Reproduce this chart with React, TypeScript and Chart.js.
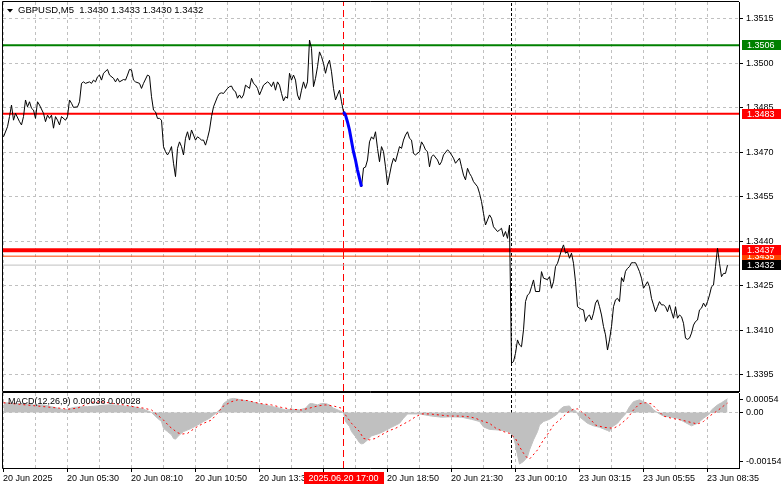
import React, { useEffect, useRef } from 'react';
import { Chart, registerables } from 'chart.js';

Chart.register(...registerables);

const FONT = "'Liberation Sans', Arial, sans-serif";

// ---------- data ----------
const headerText = 'GBPUSD,M5  1.3430 1.3433 1.3430 1.3432';
const macdTitle = 'MACD(12,26,9) 0.00038 0.00028';

// bar number (M5 bars from the left edge) and close price
const priceBars = [
  0, 2, 3, 4, 5, 6, 8, 9, 10, 11, 12, 13, 14, 15, 16, 17, 18, 20, 21, 22, 23, 24, 25, 26, 27, 28, 29, 31, 32, 33, 34, 35, 37, 38, 39, 40,
  41, 43, 44, 45, 46, 47, 48, 49, 50, 52, 53, 55, 56, 57, 58, 60, 61, 62, 63, 64, 65, 66, 68, 69, 70, 72, 73, 74, 75, 76, 77, 78, 79, 80,
  81, 82, 83, 84, 85, 86, 87, 88, 89, 90, 91, 92, 93, 94, 95, 96, 97, 98, 99, 100, 101, 102, 103, 104, 105, 107, 108, 109, 110, 112, 113,
  114, 115, 116, 117, 118, 119, 120, 121, 123, 124, 125, 126, 127, 128, 129, 130, 132, 133, 134, 135, 136, 137, 138, 139, 140, 141, 142,
  143, 144, 145, 146, 147, 148, 149, 150, 151, 152, 153, 154, 155, 156, 157, 158, 159, 160, 161, 162, 163, 164, 165, 166, 167, 168, 169,
  170, 171, 172, 173, 174, 175, 176, 177, 178, 179, 180, 181, 182, 183, 184, 185, 186, 187, 188, 189, 190, 191, 192, 193, 194, 195, 196,
  198, 199, 200, 201, 202, 203, 204, 205, 206, 208, 209, 210, 211, 212, 213, 214, 215, 217, 218, 219, 220, 222, 223, 224, 225, 226, 228,
  229, 230, 231, 232, 233, 234, 235, 237, 238, 239, 240, 241, 242, 243, 244, 245, 247, 248, 249, 250, 251, 252, 253, 254, 255, 256, 257,
  258, 259, 260, 261, 262, 263, 264, 265, 266, 268, 269, 270, 272, 273, 274, 275, 276, 277, 278, 279, 280, 281, 282, 283, 284, 285, 286,
  287, 288, 289, 290, 291, 292, 293, 294, 295, 296, 297, 298, 299, 300, 301, 302, 303, 304, 305, 306, 307, 308, 309, 310, 311, 312, 313,
  314, 315, 316, 317, 318, 319, 320, 321, 322, 323, 324, 325, 326, 327, 328, 329, 330, 331, 332, 333, 334, 335, 336, 337, 338, 339, 340,
  341, 342, 343, 344, 345, 346, 347, 348, 349, 350, 351, 352, 353, 354, 355, 356, 357, 358, 359, 360, 361, 362,
];
const priceCloses = [
  1.34752, 1.34786, 1.3482, 1.34859, 1.34808, 1.34831, 1.34803, 1.34792, 1.3482, 1.34876, 1.34853, 1.3487, 1.34848, 1.34842, 1.34814,
  1.3487, 1.34859, 1.34831, 1.34803, 1.34825, 1.34814, 1.34825, 1.34781, 1.3482, 1.34808, 1.34792, 1.3482, 1.34808, 1.3482, 1.34876,
  1.34865, 1.34851, 1.34853, 1.3487, 1.34932, 1.34937, 1.34932, 1.34937, 1.34932, 1.34943, 1.34937, 1.34954, 1.3496, 1.34943, 1.34966,
  1.34979, 1.3496, 1.34949, 1.34937, 1.34949, 1.34937, 1.34945, 1.34943, 1.3496, 1.34979, 1.34977, 1.34943, 1.34937, 1.34932, 1.34915,
  1.34932, 1.3496, 1.34956, 1.34887, 1.34842, 1.34836, 1.34814, 1.34814, 1.34808, 1.34719, 1.34702, 1.34691, 1.34702, 1.34719, 1.34663,
  1.34618, 1.34713, 1.34735, 1.34719, 1.34691, 1.34747, 1.34769, 1.34741, 1.34775, 1.34758, 1.34741, 1.34752, 1.34747, 1.34741, 1.34741,
  1.34724, 1.34747, 1.34775, 1.3482, 1.34853, 1.34887, 1.34898, 1.349, 1.34898, 1.34915, 1.34921, 1.34923, 1.34909, 1.34904, 1.34882,
  1.34893, 1.34882, 1.34893, 1.34926, 1.34915, 1.34949, 1.34932, 1.34926, 1.34915, 1.34893, 1.34909, 1.34926, 1.34937, 1.34932, 1.34921,
  1.34937, 1.34909, 1.34937, 1.34926, 1.34898, 1.34873, 1.34887, 1.34882, 1.34966, 1.34943, 1.3496, 1.34943, 1.34893, 1.34876, 1.34909,
  1.34937, 1.34915, 1.34937, 1.35078, 1.3505, 1.34921, 1.34949, 1.34988, 1.35038, 1.35022, 1.34999, 1.34966, 1.34994, 1.3501, 1.34971,
  1.34915, 1.34876, 1.34893, 1.34909, 1.3487, 1.34836, 1.34825, 1.34802, 1.34775, 1.34738, 1.34701, 1.34674, 1.3464, 1.34612, 1.34584,
  1.34647, 1.3465, 1.34674, 1.34735, 1.34752, 1.34744, 1.34769, 1.34713, 1.34668, 1.34719, 1.34702, 1.34651, 1.3459, 1.34623, 1.34657,
  1.3468, 1.34668, 1.34719, 1.34713, 1.34741, 1.34758, 1.34769, 1.34747, 1.34741, 1.34696, 1.34691, 1.34702, 1.34735, 1.34724, 1.34708,
  1.34702, 1.34651, 1.34685, 1.34691, 1.34674, 1.34657, 1.34668, 1.34691, 1.34708, 1.34702, 1.34691, 1.3468, 1.34663, 1.3468, 1.34651,
  1.34623, 1.34607, 1.34646, 1.34629, 1.34618, 1.34601, 1.34584, 1.34562, 1.34534, 1.34494, 1.34455, 1.34472, 1.34489, 1.34478, 1.34449,
  1.34433, 1.34438, 1.34444, 1.34416, 1.34433, 1.3441, 1.34455, 1.3399, 1.33995, 1.34023, 1.34068, 1.34051, 1.34045, 1.34102, 1.34197,
  1.34219, 1.34225, 1.34247, 1.3427, 1.34231, 1.34231, 1.34298, 1.34276, 1.34271, 1.34281, 1.34242, 1.34264, 1.34315, 1.34326, 1.34348,
  1.34371, 1.34388, 1.3436, 1.34365, 1.34343, 1.3436, 1.34326, 1.34264, 1.3418, 1.34175, 1.34171, 1.34169, 1.3413, 1.34146, 1.34152,
  1.34135, 1.34158, 1.34192, 1.34203, 1.3418, 1.34152, 1.34113, 1.34085, 1.34034, 1.34068, 1.34113, 1.3418, 1.34203, 1.34208, 1.34197,
  1.34278, 1.34264, 1.34299, 1.34309, 1.34315, 1.34328, 1.34328, 1.34328, 1.34314, 1.34298, 1.34276, 1.34242, 1.34253, 1.34264, 1.34247,
  1.34208, 1.34186, 1.34163, 1.3418, 1.34197, 1.34186, 1.34186, 1.3418, 1.34163, 1.34186, 1.34163, 1.34141, 1.3418, 1.34141, 1.34152,
  1.34146, 1.34124, 1.34074, 1.3407, 1.34074, 1.34091, 1.34118, 1.3413, 1.34135, 1.34169, 1.34175, 1.34192, 1.3418, 1.34197, 1.34219,
  1.34247, 1.34253, 1.34315, 1.34377, 1.34326, 1.34281, 1.34292, 1.34292, 1.3432,
];
const highlightFromBar = 170;
const highlightToBar = 179;

const priceTicks = [1.3515, 1.35, 1.3485, 1.347, 1.3455, 1.344, 1.3425, 1.341, 1.3395];
const PRICE_MIN = 1.33896;
const PRICE_MAX = 1.35206;

const levelPrices = [1.3506, 1.3483, 1.3437, 1.3435, 1.3432];
const levelLineColors = ['#008000', '#ff0000', '#ff0000', '#ff4500', '#c0c0c0'];
const levelLineWidths = [2, 2, 4, 1, 1];
const levelBoxColors = ['#008000', '#ff0000', '#ff0000', '#ff4500', '#000000'];
const levelBoxOrder = [0, 1, 3, 2, 4];

const X_MIN = -0.25;
const X_MAX = 367.75;
const gridBars = [0, 16, 32, 48, 64, 80, 96, 112, 128, 144, 160, 176, 192, 208, 224, 240, 256, 272, 288, 304, 320, 336, 352];
const timeLabelBars = [0, 32, 64, 96, 128, 160, 192, 224, 256, 288, 320, 352];
const timeLabels = [
  '20 Jun 2025', '20 Jun 05:30', '20 Jun 08:10', '20 Jun 10:50', '20 Jun 13:30', '20 Jun 16:10',
  '20 Jun 18:50', '20 Jun 21:30', '23 Jun 00:10', '23 Jun 03:15', '23 Jun 05:55', '23 Jun 08:35',
];
const cursorBar = 170;
const cursorLabel = '2025.06.20 17:00';
const sessionBar = 254;

const macdBars = [
  0, 9, 15, 20, 24, 27, 30, 32, 35, 39, 42, 47, 52, 55, 60, 65, 70, 74, 77, 79, 80, 82, 84, 85, 86, 88, 90, 94, 97, 100, 103, 105, 107,
  109, 110, 113, 115, 119, 122, 128, 138, 141, 144, 148, 151, 153, 154, 157, 159, 161, 163, 165, 168, 170, 171, 173, 174, 176, 178, 179,
  180, 182, 184, 188, 191, 194, 198, 200, 202, 208, 214, 219, 224, 229, 234, 238, 240, 243, 246, 250, 253, 255, 256, 257, 258, 260, 262,
  263, 265, 267, 268, 270, 273, 275, 277, 278, 280, 283, 284, 286, 288, 292, 295, 298, 302, 303, 304, 307, 309, 311, 313, 315, 318, 320,
  323, 325, 328, 330, 334, 337, 340, 344, 347, 350, 353, 354, 357, 359, 362,
];
const macdValues = [
  0.00027, 0.00025, 0.00021, 0.00021, 0.00016, 0.00012, 0.00007, 0.00009, 0.00014, 0.00016, 0.00016, 0.00018, 0.00021, 0.00021, 0.00018,
  0.00016, 0.00009, 0.0, -0.00016, -0.00025, -0.00044, -0.00053, -0.00062, -0.00072, -0.00074, -0.00062, -0.00053, -0.00044, -0.00035,
  -0.00025, -0.00016, -0.00007, 0.00002, 0.00012, 0.00025, 0.00037, 0.00039, 0.00035, 0.00032, 0.00024, 0.00012, 0.00007, 0.00009,
  0.00007, 0.00012, 0.00024, 0.00025, 0.00021, 0.00025, 0.00025, 0.00021, 0.00012, 0.00005, 0.0, -0.00025, -0.00039, -0.00053, -0.00067,
  -0.00084, -0.00087, -0.00086, -0.00076, -0.00065, -0.00058, -0.0005, -0.00041, -0.0003, -0.00016, -0.00004, -0.00004, -0.0001,
  -0.00013, -0.00012, -0.00013, -0.00019, -0.00025, -0.0004, -0.00047, -0.00048, -0.0005, -0.00055, -0.00067, -0.0009, -0.00118,
  -0.00143, -0.00136, -0.00123, -0.00104, -0.00076, -0.00053, -0.00035, -0.00025, -0.00019, -0.00012, -0.00004, 0.00007, 0.00016,
  0.00018, 0.00009, 0.00005, -0.00012, -0.0003, -0.00037, -0.00041, -0.0005, -0.00053, -0.00041, -0.0003, -0.00016, -0.00004, 0.00016,
  0.0003, 0.00035, 0.0003, 0.00021, 0.00007, -0.00004, -0.0001, -0.00013, -0.00016, -0.00025, -0.00037, -0.0003, -0.00016, -0.00004,
  0.00007, 0.00021, 0.00027, 0.00038,
];
const signalBars = [
  0, 28, 32, 37, 42, 45, 50, 55, 60, 65, 70, 74, 77, 80, 83, 87, 89, 92, 94, 97, 100, 104, 107, 110, 114, 117, 122, 128, 134, 139, 144,
  149, 153, 157, 161, 165, 169, 171, 174, 178, 180, 183, 186, 189, 193, 196, 199, 203, 206, 209, 213, 218, 223, 228, 233, 236, 239, 243,
  246, 250, 253, 256, 258, 260, 262, 263, 264, 267, 270, 273, 275, 279, 282, 285, 287, 289, 293, 296, 300, 305, 308, 312, 315, 318, 321,
  324, 327, 330, 334, 339, 344, 347, 350, 353, 357, 360, 362,
];
const signalValues = [
  0.00027, 0.00012, 0.00009, 0.00012, 0.00024, 0.00029, 0.00029, 0.00025, 0.00021, 0.00016, 0.00012, 0.00007, -0.00007, -0.00021,
  -0.00039, -0.00056, -0.0006, -0.00058, -0.0005, -0.00039, -0.0003, -0.00021, -0.00002, 0.00018, 0.0003, 0.00035, 0.00033, 0.00025,
  0.00021, 0.00014, 0.00009, 0.00007, 0.00012, 0.00018, 0.00021, 0.00018, 0.00012, -0.00007, -0.0003, -0.00053, -0.00072, -0.00076,
  -0.00072, -0.00062, -0.0005, -0.00044, -0.00035, -0.00023, -0.00012, -0.00004, -0.00004, -0.00007, -0.0001, -0.0001, -0.00012,
  -0.00016, -0.00023, -0.0003, -0.00043, -0.00053, -0.00058, -0.00072, -0.00095, -0.00113, -0.00127, -0.00129, -0.00123, -0.00104,
  -0.00076, -0.00053, -0.00035, -0.00016, 0.0, 0.00009, 0.0001, 0.00002, -0.00016, -0.00035, -0.00041, -0.00044, -0.00035, -0.00016,
  0.00007, 0.00024, 0.00027, 0.00024, 0.00007, -0.0001, -0.00016, -0.00021, -0.00028, -0.00032, -0.00025, -0.0001, 0.00005, 0.00018,
  0.00026,
];
const MACD_MIN = -0.00154;
const MACD_MAX = 0.00054;
const macdTicks = [0.00054, 0, -0.00154];
const macdTickLabels = ['0.00054', '0.00', '-0.00154'];

// ---------- helpers ----------
const toPoints = (xs: number[], ys: number[]) => xs.map((x, i) => ({ x, y: ys[i] }));
const hLine = (v: number) => [{ x: X_MIN, y: v }, { x: X_MAX, y: v }];
const vLine = (bar: number, lo: number, hi: number) => [{ x: bar, y: lo }, { x: bar, y: hi }];

const xScale = () => ({
  type: 'linear' as const,
  min: X_MIN,
  max: X_MAX,
  afterBuildTicks: (s: any) => {
    s.ticks = gridBars.map((v) => ({ value: v }));
  },
  ticks: { display: false },
  grid: { color: '#c0c0c0', drawTicks: false, lineWidth: 1 },
  border: { display: false, dash: [3, 3] },
  afterFit: (s: any) => {
    s.height = 0;
    s.paddingLeft = 0;
    s.paddingRight = 0;
  },
});

const mainOverlay = {
  id: 'mainOverlay',
  afterDraw(chart: any) {
    const { ctx, chartArea: a, scales } = chart;
    const y = scales.y;
    ctx.save();
    ctx.strokeStyle = '#000';
    ctx.lineWidth = 1;
    ctx.beginPath();
    ctx.moveTo(a.left - 0.5, a.top - 0.5);
    ctx.lineTo(a.right, a.top - 0.5);
    ctx.moveTo(a.left - 0.5, a.top - 0.5);
    ctx.lineTo(a.left - 0.5, a.bottom + 0.5);
    ctx.lineTo(a.right, a.bottom + 0.5);
    ctx.stroke();

    // header
    ctx.fillStyle = '#000';
    ctx.beginPath();
    ctx.moveTo(7, 9);
    ctx.lineTo(13, 9);
    ctx.lineTo(10, 12.5);
    ctx.closePath();
    ctx.fill();
    ctx.font = `9.5px ${FONT}`;
    ctx.textBaseline = 'middle';
    ctx.textAlign = 'left';
    ctx.fillText(headerText, 18, 10.5);

    // level price boxes on the price axis
    ctx.font = `9px ${FONT}`;
    levelBoxOrder.forEach((i) => {
      const py = Math.round(y.getPixelForValue(levelPrices[i]));
      ctx.fillStyle = levelBoxColors[i];
      ctx.fillRect(a.right + 3, py - 5, 40, 10);
      ctx.fillStyle = '#fff';
      ctx.fillText(levelPrices[i].toFixed(4), a.right + 8, py + 0.5);
    });
    ctx.restore();
  },
};

const macdOverlay = {
  id: 'macdOverlay',
  afterDraw(chart: any) {
    const { ctx, chartArea: a, scales } = chart;
    const { x, y } = scales;
    ctx.save();
    ctx.strokeStyle = '#000';
    ctx.lineWidth = 1;
    ctx.beginPath();
    ctx.moveTo(a.left - 0.5, a.top - 0.5);
    ctx.lineTo(a.right, a.top - 0.5);
    ctx.moveTo(a.left - 0.5, a.top - 0.5);
    ctx.lineTo(a.left - 0.5, a.bottom + 0.5);
    ctx.lineTo(a.right, a.bottom + 0.5);
    ctx.stroke();

    ctx.font = `9px ${FONT}`;
    ctx.textBaseline = 'middle';
    ctx.textAlign = 'left';
    ctx.fillStyle = '#000';
    ctx.fillText(macdTitle, 8, a.top + 9);

    // value labels
    macdTicks.forEach((v, i) => {
      const p = y.getPixelForValue(v);
      const ly = Math.round(i === 0 ? p + 6 : i === macdTicks.length - 1 ? p - 7 : p);
      ctx.beginPath();
      ctx.moveTo(a.right, ly + 0.5);
      ctx.lineTo(a.right + 4, ly + 0.5);
      ctx.stroke();
      ctx.fillText(macdTickLabels[i], a.right + 7, ly + 0.5);
    });

    // time axis
    timeLabelBars.forEach((b, i) => {
      const px = Math.floor(x.getPixelForValue(b));
      ctx.beginPath();
      ctx.moveTo(px + 0.5, a.bottom);
      ctx.lineTo(px + 0.5, a.bottom + 4);
      ctx.stroke();
      ctx.fillText(timeLabels[i], px, a.bottom + 10.5);
    });
    const cx = x.getPixelForValue(cursorBar);
    ctx.fillStyle = '#ff0000';
    ctx.fillRect(Math.round(cx - 40), a.bottom + 4, 80, 12);
    ctx.fillStyle = '#fff';
    ctx.textAlign = 'center';
    ctx.fillText(cursorLabel, cx, a.bottom + 10.5);
    ctx.restore();
  },
};

export default function App() {
  const mainRef = useRef<HTMLCanvasElement>(null);
  const macdRef = useRef<HTMLCanvasElement>(null);

  useEffect(() => {
    Chart.defaults.font.family = FONT;
    const priceData = toPoints(priceBars, priceCloses);
    const blueData = priceData.filter((p) => p.x >= highlightFromBar && p.x <= highlightToBar);

    const main = new Chart(mainRef.current as HTMLCanvasElement, {
      type: 'line',
      data: {
        datasets: [
          { data: blueData, borderColor: '#0000ff', borderWidth: 3, order: 0 },
          { data: priceData, borderColor: '#000000', borderWidth: 1, order: 1 },
          ...levelPrices.map((p, i) => ({
            data: hLine(p),
            borderColor: levelLineColors[i],
            borderWidth: levelLineWidths[i],
            order: 6 - i,
          })),
          { data: vLine(cursorBar, PRICE_MIN, PRICE_MAX), borderColor: '#ff0000', borderWidth: 1, borderDash: [7, 4], order: 10 },
          { data: vLine(sessionBar, PRICE_MIN, PRICE_MAX), borderColor: '#000000', borderWidth: 1, borderDash: [3, 2], order: 11 },
        ] as any,
      },
      options: {
        animation: false,
        responsive: false,
        devicePixelRatio: 1,
        layout: { padding: { left: 3, top: 2, right: 0, bottom: 1 } },
        elements: { point: { radius: 0 }, line: { tension: 0, fill: false } },
        plugins: { legend: { display: false }, tooltip: { enabled: false } },
        scales: {
          x: xScale() as any,
          y: {
            type: 'linear',
            position: 'right',
            min: PRICE_MIN,
            max: PRICE_MAX,
            afterBuildTicks: (s: any) => {
              s.ticks = priceTicks.map((v) => ({ value: v }));
            },
            ticks: {
              callback: (v: any) => Number(v).toFixed(4),
              color: '#000',
              font: { size: 9, family: FONT },
              padding: 3,
              autoSkip: false,
            },
            grid: { color: '#c0c0c0', tickColor: '#000', tickLength: 4, tickBorderDash: [], lineWidth: 1 },
            border: { display: true, color: '#000', width: 1, dash: [3, 3] },
            afterFit: (s: any) => {
              s.width = 42;
              s.paddingTop = 0;
              s.paddingBottom = 0;
            },
          } as any,
        },
      },
      plugins: [mainOverlay],
    });

    const macd = new Chart(macdRef.current as HTMLCanvasElement, {
      type: 'line',
      data: {
        datasets: [
          { data: toPoints(signalBars, signalValues), borderColor: '#ff0000', borderWidth: 1, borderDash: [2, 3], order: 0 },
          {
            data: toPoints(macdBars, macdValues),
            borderColor: '#c0c0c0',
            borderWidth: 1,
            backgroundColor: '#c0c0c0',
            fill: 'origin',
            order: 1,
          },
          { data: vLine(cursorBar, MACD_MIN, MACD_MAX), borderColor: '#ff0000', borderWidth: 1, borderDash: [7, 4], order: 2 },
          { data: vLine(sessionBar, MACD_MIN, MACD_MAX), borderColor: '#000000', borderWidth: 1, borderDash: [3, 2], order: 3 },
        ] as any,
      },
      options: {
        animation: false,
        responsive: false,
        devicePixelRatio: 1,
        layout: { padding: { left: 3, top: 1, right: 0, bottom: 0 } },
        elements: { point: { radius: 0 }, line: { tension: 0 } },
        plugins: { legend: { display: false }, tooltip: { enabled: false } },
        scales: {
          x: {
            ...(xScale() as any),
            afterFit: (s: any) => {
              s.height = 21;
              s.paddingLeft = 0;
              s.paddingRight = 0;
            },
          },
          y: {
            type: 'linear',
            position: 'right',
            min: MACD_MIN,
            max: MACD_MAX,
            afterBuildTicks: (s: any) => {
              s.ticks = [{ value: 0 }];
            },
            ticks: { display: false },
            grid: { color: '#c0c0c0', drawTicks: false, lineWidth: 1 },
            border: { display: true, color: '#000', width: 1, dash: [3, 3] },
            afterFit: (s: any) => {
              s.width = 42;
              s.paddingTop = 0;
              s.paddingBottom = 0;
            },
          } as any,
        },
      },
      plugins: [macdOverlay],
    });

    return () => {
      main.destroy();
      macd.destroy();
    };
  }, []);

  return (
    <div style={{ position: 'fixed', left: 0, top: 0, width: 781, height: 489, background: '#fff' }}>
      <canvas
        ref={mainRef}
        width={781}
        height={392}
        style={{ position: 'absolute', left: 0, top: 0, width: 781, height: 392 }}
      />
      <canvas
        ref={macdRef}
        width={781}
        height={97}
        style={{ position: 'absolute', left: 0, top: 392, width: 781, height: 97 }}
      />
    </div>
  );
}
